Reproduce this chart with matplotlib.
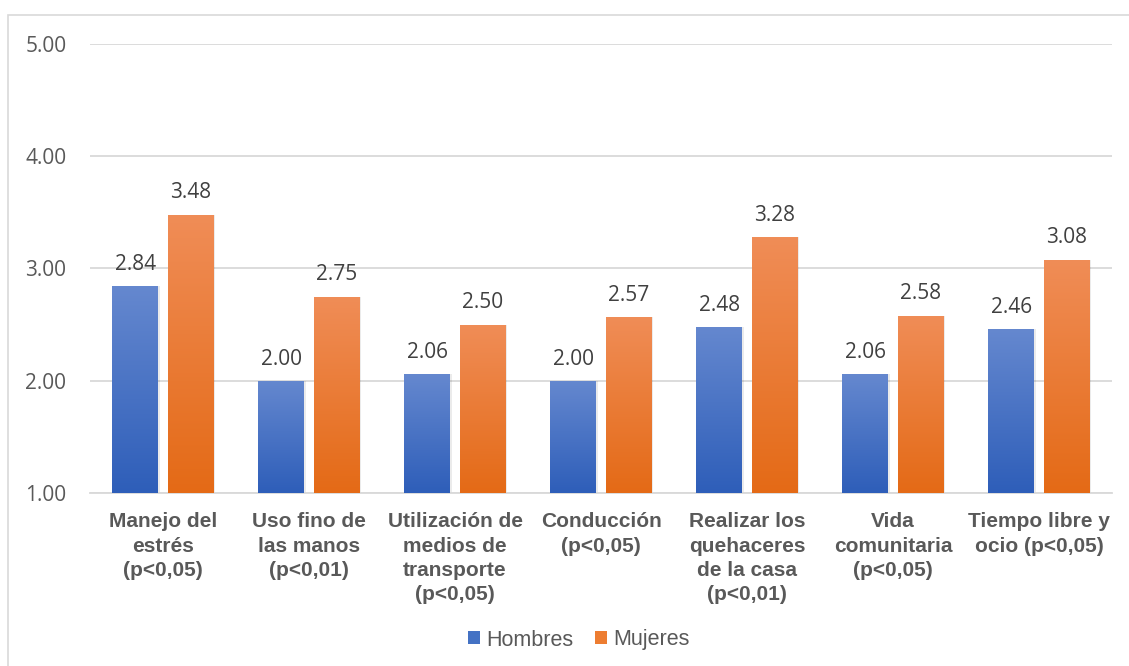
import numpy as np
import matplotlib
matplotlib.use("Agg")
import matplotlib.pyplot as plt
from matplotlib.patches import Rectangle, Patch
from matplotlib.colors import LinearSegmentedColormap

categories = ["Manejo del\nestrés\n(p<0,05)", "Uso fino de\nlas manos\n(p<0,01)",
              "Utilización de\nmedios de\ntransporte\n(p<0,05)", "Conducción\n(p<0,05)",
              "Realizar los\nquehaceres\nde la casa\n(p<0,01)", "Vida\ncomunitaria\n(p<0,05)",
              "Tiempo libre y\nocio (p<0,05)"]
hombres = [2.84, 2.00, 2.06, 2.00, 2.48, 2.06, 2.46]
mujeres = [3.48, 2.75, 2.50, 2.57, 3.28, 2.58, 3.08]
yticks = [1.00, 2.00, 3.00, 4.00, 5.00]

blue_grad = LinearSegmentedColormap.from_list("b", ["#2E5EB9", "#6588CF"])
orange_grad = LinearSegmentedColormap.from_list("o", ["#E46A16", "#F08D57"])

fig = plt.figure(figsize=(11.29, 6.66), dpi=100)
ax = fig.add_axes([0.0797, 0.2598, 0.9053, 0.6741])

# outer chart border
fig.patches.append(Rectangle((8 / 1129, -0.1), 1.2, 1 - 15 / 666 + 0.1,
                             transform=fig.transFigure, fill=False,
                             edgecolor="#D9D9D9", linewidth=1.2))

x = np.arange(len(categories))
w = 0.315
off = 0.19
grad = np.linspace(0, 1, 256).reshape(-1, 1)

def gradient_bars(xs, vals, cmap, label):
    bars = ax.bar(xs, [v - 1 for v in vals], w, bottom=1, color=cmap(0.5),
                  label=label, zorder=3)
    for b, v in zip(bars, vals):
        # soft shadow
        sh = Rectangle((b.get_x() + 0.01, 1), w, v - 1, facecolor="#000000",
                       alpha=0.08, edgecolor="none", zorder=2)
        ax.add_patch(sh)
        im = ax.imshow(grad, cmap=cmap, origin="lower", aspect="auto",
                       extent=[b.get_x(), b.get_x() + w, 1, v], zorder=4)
        im.set_clip_path(b)
        ax.text(b.get_x() + w / 2, v + 0.1, f"{v:.2f}", ha="center", va="bottom",
                fontsize=15, color="#404040", family="Open Sans")
    return bars

gradient_bars(x - off, hombres, blue_grad, "Hombres")
gradient_bars(x + off, mujeres, orange_grad, "Mujeres")

ax.set_xlim(-0.5, len(categories) - 0.5)
ax.set_ylim(1, 5)
ax.set_yticks(yticks)
ax.set_yticklabels([f"{t:.2f}" for t in yticks], fontsize=15, color="#595959",
                   family="Open Sans")
ax.yaxis.grid(True, color="#D9D9D9", linewidth=1.3, zorder=0)
ax.set_axisbelow(True)
for s in ["top", "right", "left"]:
    ax.spines[s].set_visible(False)
ax.spines["bottom"].set_color("#D9D9D9")
ax.spines["bottom"].set_linewidth(1.3)
ax.tick_params(axis="both", length=0)
ax.tick_params(axis="y", pad=17)
ax.tick_params(axis="x", pad=14)
ax.set_xticks(x)
ax.set_xticklabels(categories, fontsize=15, fontweight="bold", color="#595959",
                   family="Liberation Sans", linespacing=1.35, va="top")

handles = [Patch(facecolor="#4472C4"), Patch(facecolor="#ED7D31")]
fig.legend(handles, ["Hombres", "Mujeres"], loc="center", bbox_to_anchor=(0.513, 1 - 640 / 666),
           ncol=2, frameon=False, handlelength=0.55, handleheight=0.55, handletextpad=0.3,
           columnspacing=1.0, prop={"family": "Liberation Sans", "size": 15.5},
           labelcolor="#595959")

fig.savefig("out.png", dpi=100, facecolor="white")
